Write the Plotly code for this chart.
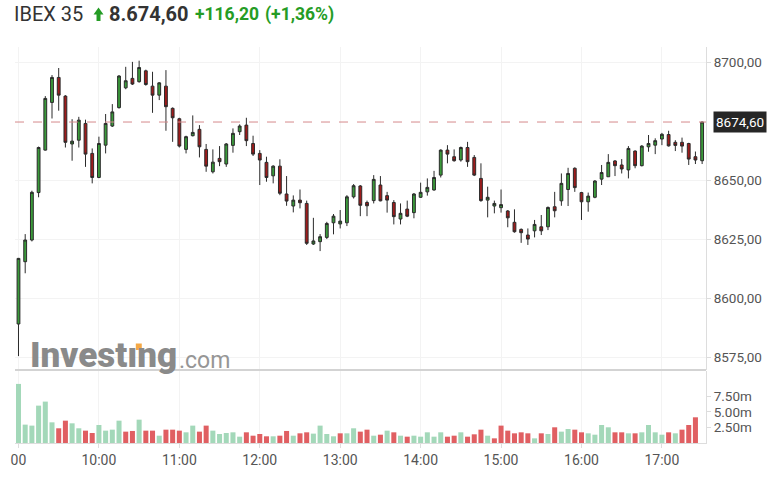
import pandas as pd
import plotly.graph_objects as go

# 5-minute candles of the IBEX 35 session, 09:00 to 17:30
OPENS = [
    8589.0, 8615.4, 8624.6, 8644.7, 8662.7, 8682.9, 8693.5, 8685.6, 8665.3, 8666.9,
    8674.0, 8661.3, 8651.1, 8664.8, 8672.9, 8680.7, 8689.1, 8693.1, 8691.7, 8696.3,
    8689.8, 8686.0, 8689.8, 8680.4, 8676.0, 8663.0, 8668.8, 8671.5, 8663.0, 8653.5,
    8659.2, 8656.8, 8664.7, 8670.5, 8673.3, 8665.5, 8661.3, 8657.5, 8651.8, 8655.9,
    8644.1, 8639.0, 8641.5, 8640.1, 8622.9, 8623.9, 8625.7, 8631.9, 8631.4, 8631.9,
    8642.9, 8647.5, 8640.5, 8641.3, 8647.9, 8643.4, 8640.5, 8633.5, 8637.7, 8636.2,
    8642.7, 8645.0, 8645.8, 8652.1, 8662.7, 8659.9, 8658.5, 8663.8, 8659.6, 8650.7,
    8641.5, 8639.0, 8638.3, 8636.9, 8632.1, 8629.1, 8626.7, 8628.5, 8630.2, 8630.2,
    8638.7, 8641.2, 8646.0, 8655.0, 8644.7, 8640.8, 8642.7, 8650.4, 8651.4, 8658.1,
    8656.4, 8654.3, 8662.3, 8656.1, 8664.1, 8664.8, 8667.4, 8669.3, 8666.0, 8666.0,
    8665.5, 8659.9, 8658.2,
]
HIGHS = [
    8617.0, 8627.1, 8645.5, 8664.2, 8685.6, 8694.5, 8697.5, 8686.0, 8675.8, 8676.8,
    8675.6, 8663.4, 8668.4, 8678.0, 8682.2, 8694.5, 8698.0, 8700.1, 8700.6, 8696.8,
    8695.9, 8691.5, 8696.6, 8680.8, 8676.4, 8668.8, 8677.4, 8673.3, 8665.3, 8663.0,
    8664.4, 8665.7, 8671.9, 8673.6, 8676.4, 8668.8, 8662.7, 8659.9, 8656.3, 8658.8,
    8651.7, 8643.5, 8646.0, 8641.3, 8634.0, 8627.1, 8632.3, 8635.6, 8637.3, 8643.6,
    8648.3, 8647.9, 8641.3, 8652.1, 8651.7, 8645.0, 8641.5, 8640.1, 8641.3, 8644.5,
    8648.9, 8650.7, 8653.9, 8663.0, 8664.8, 8663.0, 8664.2, 8666.2, 8660.6, 8657.1,
    8647.2, 8641.3, 8646.0, 8637.3, 8637.6, 8629.5, 8629.5, 8633.1, 8635.2, 8638.8,
    8645.0, 8652.8, 8655.2, 8655.4, 8645.0, 8644.7, 8650.0, 8656.4, 8661.0, 8658.5,
    8658.9, 8664.4, 8662.6, 8664.8, 8669.1, 8667.7, 8670.0, 8670.9, 8666.9, 8668.0,
    8665.8, 8662.1, 8674.8,
]
LOWS = [
    8575.4, 8610.5, 8624.0, 8642.7, 8662.5, 8676.1, 8679.4, 8663.8, 8658.2, 8663.8,
    8655.6, 8648.6, 8650.8, 8661.3, 8672.5, 8680.3, 8688.5, 8690.3, 8691.3, 8690.0,
    8678.5, 8683.9, 8670.9, 8666.2, 8663.8, 8661.3, 8668.5, 8659.6, 8653.5, 8652.8,
    8655.9, 8655.6, 8661.6, 8669.1, 8664.4, 8660.2, 8647.9, 8649.3, 8648.6, 8643.6,
    8639.1, 8636.3, 8638.0, 8622.5, 8622.5, 8619.9, 8625.0, 8627.0, 8629.5, 8630.5,
    8642.2, 8634.7, 8634.7, 8640.1, 8641.0, 8636.2, 8631.2, 8631.2, 8634.3, 8633.8,
    8642.4, 8643.4, 8645.5, 8651.1, 8657.1, 8657.8, 8657.8, 8655.6, 8651.7, 8640.8,
    8634.2, 8635.9, 8636.2, 8630.0, 8627.7, 8623.4, 8622.5, 8625.7, 8626.7, 8628.8,
    8634.2, 8639.1, 8639.0, 8645.0, 8633.1, 8636.6, 8642.3, 8647.9, 8651.4, 8651.7,
    8652.8, 8650.7, 8655.0, 8655.8, 8662.0, 8661.0, 8664.8, 8664.2, 8662.3, 8661.6,
    8656.4, 8656.8, 8656.8,
]
CLOSES = [
    8616.8, 8624.6, 8644.8, 8663.8, 8684.6, 8693.5, 8686.0, 8666.0, 8666.5, 8675.4,
    8661.0, 8651.1, 8665.5, 8674.0, 8678.9, 8694.1, 8692.1, 8690.7, 8697.7, 8690.5,
    8686.0, 8691.2, 8681.1, 8676.4, 8664.4, 8668.4, 8670.2, 8664.1, 8655.9, 8657.6,
    8657.8, 8665.3, 8669.8, 8672.9, 8666.7, 8661.0, 8658.5, 8651.1, 8655.9, 8644.4,
    8641.1, 8641.5, 8640.4, 8623.2, 8624.2, 8626.0, 8631.6, 8634.7, 8632.6, 8642.9,
    8647.6, 8639.3, 8639.1, 8650.3, 8641.2, 8641.5, 8634.5, 8635.9, 8634.7, 8644.1,
    8644.8, 8646.9, 8651.1, 8662.7, 8661.0, 8658.2, 8663.8, 8657.8, 8652.1, 8641.3,
    8642.7, 8640.1, 8639.6, 8634.0, 8628.1, 8627.7, 8625.0, 8631.2, 8628.5, 8638.4,
    8637.0, 8648.6, 8652.8, 8646.8, 8640.8, 8643.2, 8649.6, 8653.2, 8657.5, 8656.1,
    8654.7, 8663.4, 8656.1, 8664.4, 8665.5, 8666.7, 8669.4, 8664.5, 8664.7, 8664.4,
    8658.9, 8658.5, 8674.6,
]
# volume in millions
VOLUMES = [
    9.52, 2.96, 2.80, 6.02, 6.67, 3.33, 2.37, 3.60, 3.17, 2.37,
    1.99, 1.61, 2.90, 1.99, 2.15, 3.60, 1.83, 1.94, 3.76, 1.99,
    1.99, 1.18, 2.15, 2.15, 1.99, 1.72, 2.80, 1.83, 2.80, 1.99,
    1.45, 1.61, 1.72, 1.02, 1.72, 1.18, 1.45, 1.08, 1.08, 1.18,
    1.94, 1.18, 1.56, 1.72, 1.51, 2.80, 1.45, 1.08, 1.56, 1.56,
    2.37, 1.83, 2.15, 1.18, 1.34, 1.99, 1.72, 1.18, 1.02, 1.18,
    1.02, 1.72, 1.02, 1.72, 1.02, 1.18, 1.72, 1.02, 1.40, 2.15,
    1.18, 0.75, 2.80, 1.99, 1.56, 1.72, 1.56, 0.75, 1.56, 1.45,
    2.53, 1.83, 2.26, 2.15, 1.72, 1.56, 1.34, 2.90, 2.53, 1.72,
    1.72, 1.56, 1.56, 1.72, 2.90, 1.72, 1.34, 1.72, 1.56, 2.15,
    2.90, 4.14, 0.0,
]
PREV_CLOSE = 8558.4
LAST_PRICE = 8674.6

PRICE_TICKS = [8575, 8600, 8625, 8650, 8700]
PRICE_LABELS = ["8575,00", "8600,00", "8625,00", "8650,00", "8700,00"]
VOLUME_TICKS = [2.5, 5.0, 7.5]
VOLUME_LABELS = ["2.50m", "5.00m", "7.50m"]
HOURS = ["09:00", "10:00", "11:00", "12:00", "13:00", "14:00", "15:00", "16:00", "17:00"]
HOUR_LABELS = ["00", "10:00", "11:00", "12:00", "13:00", "14:00", "15:00", "16:00", "17:00"]

DAY = "2024-03-08"
UP = "#3a9a3a"
DOWN = "#9e1b1b"
VOL_UP = "#a3d8b9"
VOL_DOWN = "#e05f62"
GAIN = "#259c25"
FONT = "Roboto, Arial, sans-serif"

W, H = 781, 484
ML, MR, MT, MB = 11, 75, 47, 41


def px(x):
    """Pixel column -> paper x."""
    return (x - ML) / (W - ML - MR)


def py(y):
    """Pixel row -> paper y."""
    return (H - MB - y) / (H - MT - MB)


times = pd.date_range(f"{DAY} 09:00", periods=len(OPENS), freq="5min")
prev = [PREV_CLOSE] + CLOSES[:-1]
vol_colors = [VOL_UP if c >= p else VOL_DOWN for c, p in zip(CLOSES, prev)]

fig = go.Figure()
fig.add_trace(
    go.Candlestick(
        x=times,
        open=OPENS,
        high=HIGHS,
        low=LOWS,
        close=CLOSES,
        increasing=dict(fillcolor=UP, line=dict(color="#2b2b2b", width=1)),
        decreasing=dict(fillcolor=DOWN, line=dict(color="#2b2b2b", width=1)),
        whiskerwidth=0,
        showlegend=False,
        hoverinfo="skip",
        xaxis="x",
        yaxis="y",
    )
)
fig.add_trace(
    go.Bar(
        x=times,
        y=VOLUMES,
        marker=dict(color=vol_colors, line=dict(width=0)),
        showlegend=False,
        hoverinfo="skip",
        xaxis="x2",
        yaxis="y2",
    )
)

x_range = [f"{DAY} 08:57:24", f"{DAY} 17:32:53"]
hour_vals = [f"{DAY} {h}" for h in HOURS]
grid = "#f3f3f3"
axis_line = "#dddddd"

fig.update_layout(
    width=W,
    height=H,
    margin=dict(l=ML, r=MR, t=MT, b=MB),
    paper_bgcolor="white",
    plot_bgcolor="white",
    font=dict(family=FONT, color="#555555"),
    boxgap=0.4,
    bargap=0.25,
    xaxis=dict(
        domain=[0, 1],
        anchor="y",
        range=x_range,
        rangeslider=dict(visible=False),
        tickvals=hour_vals,
        showticklabels=False,
        showgrid=True,
        gridcolor=grid,
        zeroline=False,
    ),
    yaxis=dict(
        domain=[py(370), 1],
        anchor="x",
        side="right",
        range=[8569.5, 8706.4],
        tickvals=PRICE_TICKS,
        ticktext=PRICE_LABELS,
        tickfont=dict(size=13.5, color="#555555"),
        ticks="outside",
        ticklen=4,
        tickcolor=axis_line,
        showgrid=True,
        gridcolor=grid,
        showline=True,
        linecolor=axis_line,
        zeroline=False,
    ),
    xaxis2=dict(
        domain=[0, 1],
        anchor="y2",
        range=x_range,
        matches="x",
        tickvals=hour_vals,
        ticktext=HOUR_LABELS,
        tickfont=dict(size=14, color="#555555"),
        ticks="outside",
        ticklen=4,
        tickcolor=axis_line,
        showgrid=True,
        gridcolor=grid,
        showline=True,
        linecolor=axis_line,
        zeroline=False,
    ),
    yaxis2=dict(
        domain=[0, py(371)],
        anchor="x2",
        side="right",
        range=[0, 11.6],
        tickvals=VOLUME_TICKS,
        ticktext=VOLUME_LABELS,
        tickfont=dict(size=13.5, color="#555555"),
        ticks="outside",
        ticklen=4,
        tickcolor=axis_line,
        showgrid=False,
        showline=True,
        linecolor=axis_line,
        zeroline=False,
    ),
)

# last price guide and separator between panes
fig.add_shape(
    type="line", xref="paper", yref="y", x0=0, x1=1, y0=LAST_PRICE, y1=LAST_PRICE,
    line=dict(color="#d58a8c", width=1, dash="dash"),
)
fig.add_shape(
    type="line", xref="paper", yref="paper", x0=0, x1=1, y0=py(370), y1=py(370),
    line=dict(color="#d3d3d3", width=2),
)

fig.add_annotation(
    xref="paper", yref="y", x=px(713), y=LAST_PRICE, xanchor="left", yanchor="middle",
    text="8674,60", showarrow=False, bgcolor="#262626", borderpad=2,
    font=dict(family=FONT, size=13.5, color="white"),
)

# watermark, with its orange i-dot as a small square
fig.add_annotation(
    xref="paper", yref="paper", x=px(24), y=py(370), xanchor="left", yanchor="bottom",
    text="Invest\u0131ng", showarrow=False, yshift=-8,
    font=dict(family=FONT, size=35, weight=900, color="#8a8a8a"),
)
fig.add_annotation(
    xref="paper", yref="paper", x=px(174), y=py(370), xanchor="left", yanchor="bottom",
    text=".com", showarrow=False, yshift=-6,
    font=dict(family=FONT, size=23, color="#969696"),
)
fig.add_shape(
    type="rect", xref="paper", yref="paper",
    x0=px(132.5), x1=px(138.5), y0=py(350), y1=py(343.5),
    fillcolor="#f5a845", line=dict(width=0),
)

# header line
header = [
    (8, "IBEX 35", 20, "#333333"),
    (104, "<b>8.674,60</b>", 20, "#333333"),
    (190, "<b>+116,20</b>", 17.5, GAIN),
    (260, "<b>(+1,36%)</b>", 17.5, GAIN),
]
for x, text, size, color in header:
    fig.add_annotation(
        xref="paper", yref="paper", x=px(x), y=py(14), xanchor="left", yanchor="middle",
        text=text, showarrow=False, font=dict(family=FONT, size=size, color=color),
    )

# up arrow next to the index name
arrow = [(90, 14.5), (95, 7.5), (100, 14.5), (97, 14.5), (97, 21), (93, 21), (93, 14.5)]
arrow_path = "M " + " L ".join(f"{px(x):.5f},{py(y):.5f}" for x, y in arrow) + " Z"
fig.add_shape(
    type="path", xref="paper", yref="paper", path=arrow_path,
    fillcolor=GAIN, line=dict(width=0),
)

# the page body keeps its default 8px margin otherwise
fig.write_html(
    "out.html",
    config={"displayModeBar": False},
    post_script="document.body.style.margin = '0';",
)
